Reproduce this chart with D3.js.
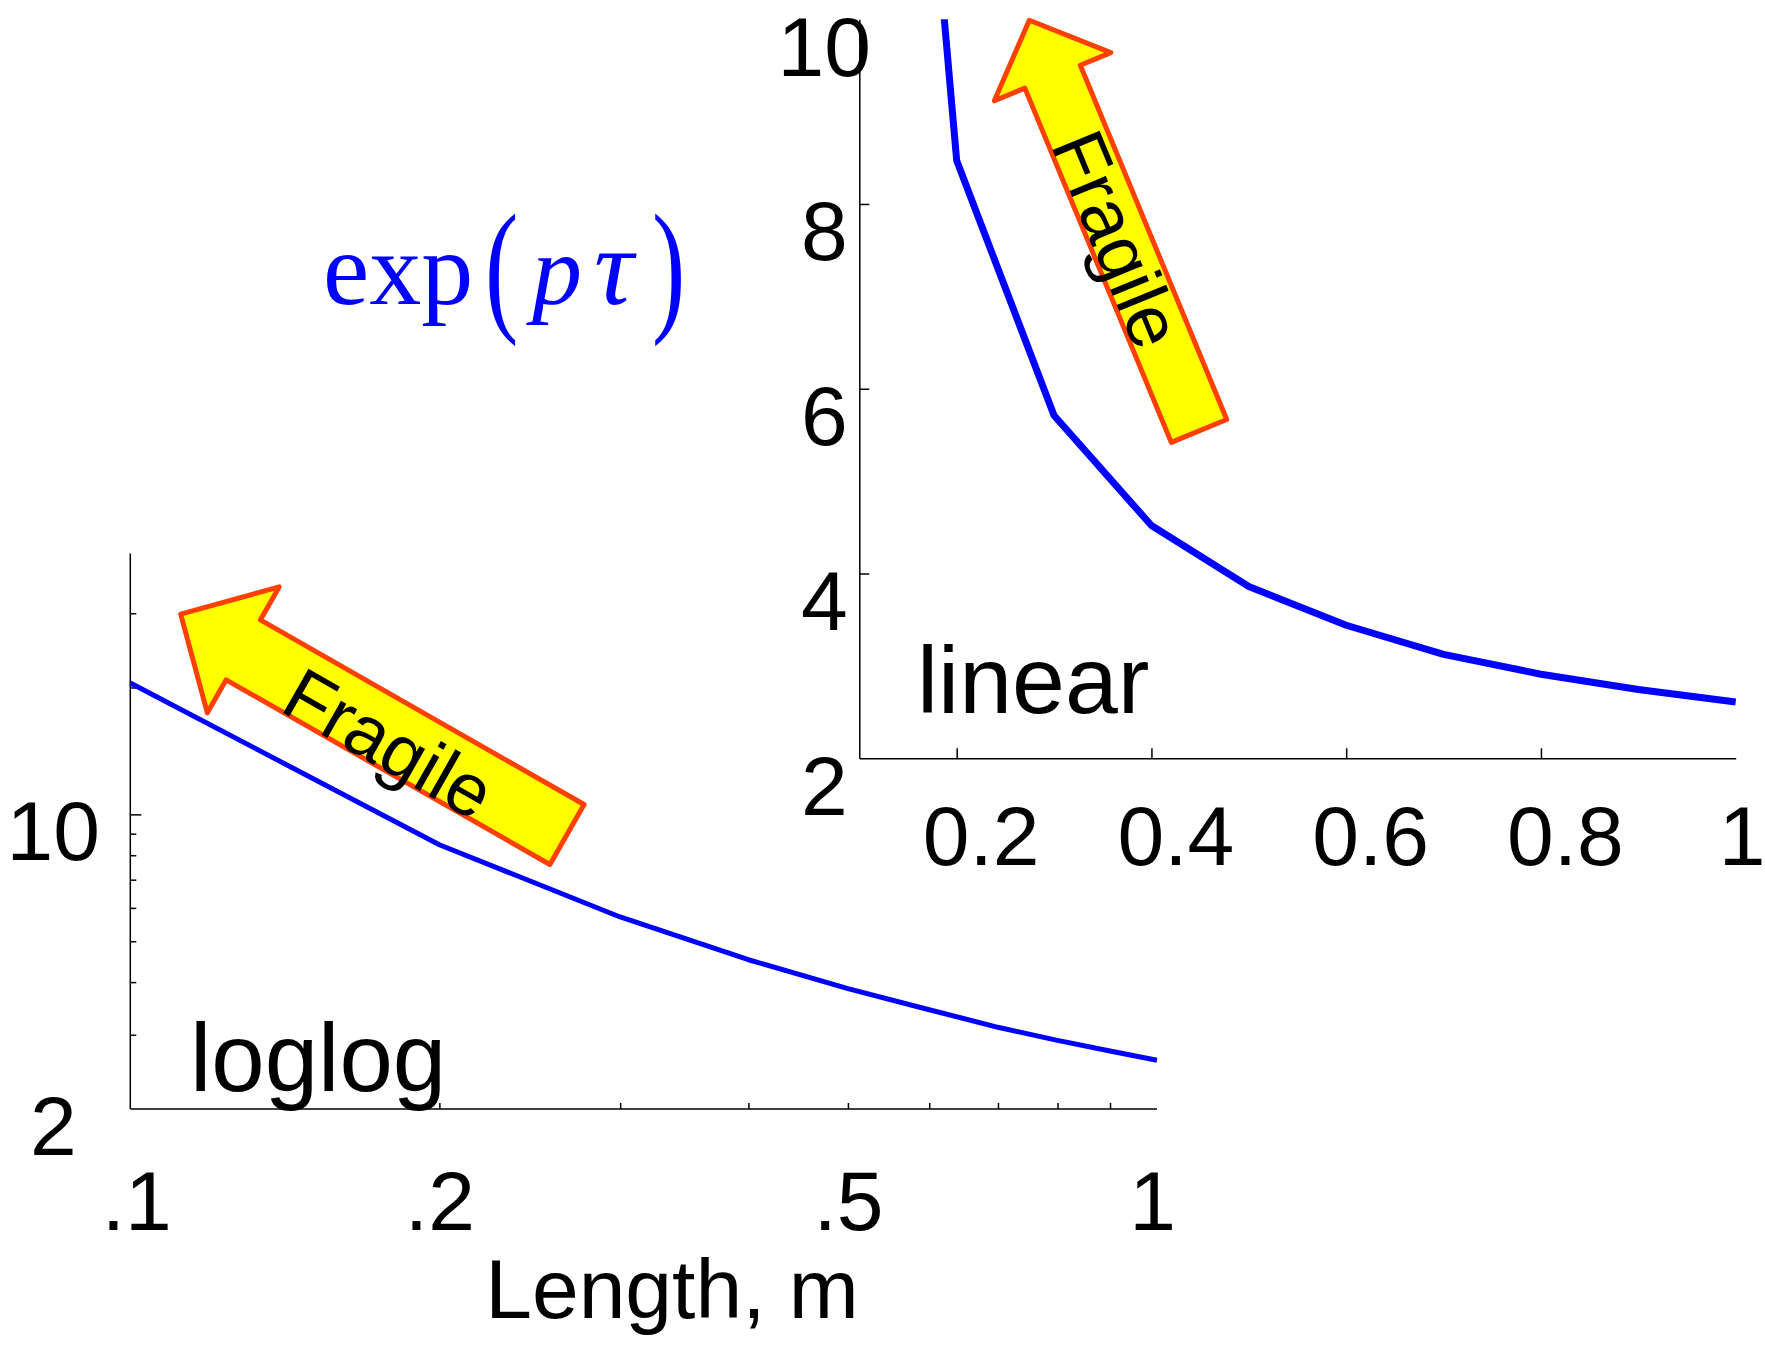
<!DOCTYPE html>
<html>
<head>
<meta charset="utf-8">
<title>exp(p tau) against length</title>
<script src="https://cdnjs.cloudflare.com/ajax/libs/d3/7.8.5/d3.min.js"></script>
<style>
  body { margin: 0; background: #fff; }
  svg { display: block; background: #fff; }
  text { font-family: "Liberation Sans", Arial, sans-serif; fill: #000; }
  .axis path, .axis line { stroke: #000; stroke-width: 1.5; }
  .axis text { font-family: "Liberation Sans", Arial, sans-serif; font-size: 84px; fill: #000; }
  .formula text { font-family: "Liberation Serif", "Times New Roman", serif; fill: #0000ff; }
</style>
</head>
<body>
<svg id="chart" width="1765" height="1347"></svg>
<script>
// data: exp(p*tau) against length in m
var lengths = [0.1, 0.2, 0.3, 0.4, 0.5, 0.6, 0.7, 0.8, 0.9, 1.0];
var expPTau = [20.5, 8.47, 5.71, 4.52, 3.86, 3.44, 3.125, 2.91, 2.745, 2.61];

// tick values and labels
var logXTicks = [0.1, 0.2, 0.3, 0.4, 0.5, 0.6, 0.7, 0.8, 0.9, 1];
var logXLabels = {"0.1": ".1", "0.2": ".2", "0.5": ".5", "1": "1"};
var logYTicks = [2, 3, 4, 5, 6, 7, 8, 9, 10, 20, 30];
var logYLabels = [2, 10];
var linXTicks = [0.2, 0.4, 0.6, 0.8, 1];
var linYTicks = [2, 4, 6, 8, 10];

var svg = d3.select("#chart");

// ---------- loglog panel ----------
var xLog = d3.scaleLog().domain([0.1, 1]).range([130.3, 1157]);
var yLog = d3.scaleLog().domain([2, 41.6]).range([1109, 553.4]);

var gLog = svg.append("g");

var axLogX = gLog.append("g").attr("class", "axis")
  .attr("transform", "translate(0," + yLog(2) + ")")
  .call(d3.axisBottom(xLog).tickValues(logXTicks).tickSize(-6).tickSizeOuter(0)
    .tickFormat(function(d){ return logXLabels[String(d)] || ""; }));
axLogX.selectAll(".tick text").attr("y", 121).attr("dy", 0)
  .attr("x", function(d){ return d === 0.1 ? 6 : (d === 1 ? -5 : 0); });
axLogX.selectAll(".tick line").filter(function(d){ return d === 0.1 || d === 1; }).remove();

var axLogY = gLog.append("g").attr("class", "axis")
  .attr("transform", "translate(" + xLog(0.1) + ",0)")
  .call(d3.axisLeft(yLog).tickValues(logYTicks).tickSize(-6).tickSizeOuter(0)
    .tickFormat(function(d){ return logYLabels.indexOf(d) >= 0 ? String(d) : ""; }));
axLogY.selectAll(".tick text").attr("x", -77).attr("dy", 0).attr("y", 45)
  .attr("text-anchor", "middle");
axLogY.selectAll(".tick line").filter(function(d){ return d === 10; }).attr("x2", 11);
axLogY.selectAll(".tick line").filter(function(d){ return d === 2; }).remove();
axLogX.selectAll("path").attr("d", "M" + xLog(0.1) + ",0H" + xLog(1));
axLogY.selectAll("path").attr("d", "M0," + yLog(2) + "V" + yLog(41.6));

var lineLog = d3.line()
  .x(function(d, i){ return xLog(lengths[i]); })
  .y(function(d){ return yLog(d); });
gLog.append("path").datum(expPTau)
  .attr("d", lineLog)
  .attr("fill", "none").attr("stroke", "#0000ff")
  .attr("stroke-width", 5).attr("stroke-linejoin", "round");

gLog.append("text").text("loglog")
  .attr("x", 190).attr("y", 1091).style("font-size", "96px");

gLog.append("text").text("Length, m")
  .attr("x", 672).attr("y", 1318).attr("text-anchor", "middle").style("font-size", "84px");

// ---------- linear panel ----------
var xLin = d3.scaleLinear().domain([0.1, 1]).range([859.3, 1735.7]);
var yLin = d3.scaleLinear().domain([2, 10]).range([758.3, 19.2]);

var gLin = svg.append("g");

gLin.append("clipPath").attr("id", "linClip")
  .append("rect")
  .attr("x", xLin(0.1)).attr("y", yLin(10))
  .attr("width", xLin(1) - xLin(0.1) + 10).attr("height", yLin(2) - yLin(10));

var axLinX = gLin.append("g").attr("class", "axis")
  .attr("transform", "translate(0," + yLin(2) + ")")
  .call(d3.axisBottom(xLin).tickValues(linXTicks).tickSize(-10).tickSizeOuter(0)
    .tickFormat(function(d){ return String(d); }));
axLinX.selectAll(".tick text").attr("y", 107).attr("dy", 0).attr("x", 24);
// the last label sits against the right edge of the picture
axLinX.selectAll(".tick text").filter(function(d){ return d === 1; })
  .attr("text-anchor", "end").attr("x", 1765 - xLin(1));
axLinX.selectAll(".tick line").filter(function(d){ return d === 1; }).remove();

var axLinY = gLin.append("g").attr("class", "axis")
  .attr("transform", "translate(" + xLin(0.1) + ",0)")
  .call(d3.axisLeft(yLin).tickValues(linYTicks).tickSize(-10).tickSizeOuter(0)
    .tickFormat(function(d){ return String(d); }));
axLinY.selectAll(".tick text").attr("x", -35).attr("dy", 0).attr("y", 56)
  .attr("text-anchor", "middle");
axLinY.selectAll(".tick line").filter(function(d){ return d === 2 || d === 10; }).remove();

var lineLin = d3.line()
  .x(function(d, i){ return xLin(lengths[i]); })
  .y(function(d){ return yLin(d); });
gLin.append("path").datum(expPTau)
  .attr("d", lineLin)
  .attr("clip-path", "url(#linClip)")
  .attr("fill", "none").attr("stroke", "#0000ff")
  .attr("stroke-width", 7).attr("stroke-linejoin", "round");

gLin.append("text").text("linear")
  .attr("x", 917).attr("y", 713).style("font-size", "95px");

// ---------- "Fragile" arrows ----------
var arrows = [
  {tip: [180.7, 614.2], tail: [567, 834.5], shaft: 69, head: 145, headLen: 72, along: 245, down: 35},
  {tip: [1029.3, 20.3], tail: [1199, 430.9], shaft: 60, head: 126, headLen: 61, along: 236, down: 28}
];

function arrowPoints(a) {
  var dx = a.tip[0] - a.tail[0], dy = a.tip[1] - a.tail[1];
  var len = Math.sqrt(dx * dx + dy * dy);
  var ux = dx / len, uy = dy / len, nx = -uy, ny = ux;
  var bx = a.tip[0] - ux * a.headLen, by = a.tip[1] - uy * a.headLen;
  var hs = a.shaft / 2, hh = a.head / 2;
  return [
    a.tip,
    [bx + nx * hh, by + ny * hh],
    [bx + nx * hs, by + ny * hs],
    [a.tail[0] + nx * hs, a.tail[1] + ny * hs],
    [a.tail[0] - nx * hs, a.tail[1] - ny * hs],
    [bx - nx * hs, by - ny * hs],
    [bx - nx * hh, by - ny * hh]
  ];
}

arrows.forEach(function(a){
  svg.append("polygon")
    .attr("points", arrowPoints(a).map(function(p){ return p.join(","); }).join(" "))
    .attr("fill", "#ffff00").attr("stroke", "#ff4000")
    .attr("stroke-width", 5).attr("stroke-linejoin", "round");

  var dx = a.tail[0] - a.tip[0], dy = a.tail[1] - a.tip[1];
  var len = Math.sqrt(dx * dx + dy * dy);
  var ux = dx / len, uy = dy / len;
  var ang = Math.atan2(uy, ux) * 180 / Math.PI;
  var px = a.tip[0] + ux * a.along - uy * a.down;
  var py = a.tip[1] + uy * a.along + ux * a.down;
  svg.append("text").text("Fragile")
    .attr("text-anchor", "middle")
    .attr("transform", "translate(" + px + "," + py + ") rotate(" + ang + ")")
    .style("font-size", "74px");
});

// ---------- formula ----------
var fg = svg.append("g").attr("class", "formula");
fg.append("text").text("exp").attr("x", 323).attr("y", 304).style("font-size", "104px");
fg.append("text").text("(").attr("transform", "translate(485,314.8) scale(1,1.47)").style("font-size", "100px");
fg.append("text").text("p").attr("x", 532).attr("y", 304).style("font-size", "100px").style("font-style", "italic");
fg.append("text").text("τ").attr("x", 594).attr("y", 304).style("font-size", "110px").style("font-style", "italic");
fg.append("text").text(")").attr("transform", "translate(652,314.8) scale(1,1.47)").style("font-size", "100px");
</script>
</body>
</html>
